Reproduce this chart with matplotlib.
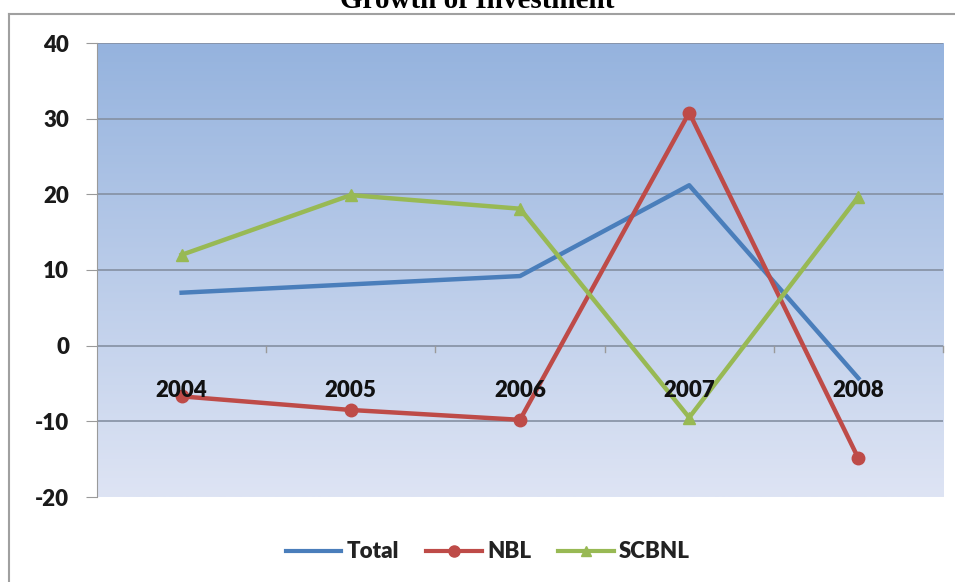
import numpy as np
import matplotlib.pyplot as plt
from matplotlib.lines import Line2D

years = ['2004', '2005', '2006', '2007', '2008']
total = [7.0, 8.1, 9.2, 21.2, -4.3]
nbl = [-6.7, -8.5, -9.8, 30.8, -14.9]
scbnl = [12.0, 19.9, 18.1, -9.5, 19.7]

plt.rcParams['font.family'] = ['Lato', 'DejaVu Sans']
plt.rcParams['axes.unicode_minus'] = False

fig = plt.figure(figsize=(9.55, 5.82), dpi=100)
W, H = 955, 582
ax = fig.add_axes([97 / W, 1 - 497 / H, 846 / W, 454 / H])

# gradient fill of the plot area
grad = np.linspace(0, 1, 256).reshape(-1, 1)
top = np.array([149, 179, 222]) / 255
bot = np.array([222, 228, 244]) / 255
img = top + (bot - top) * grad[:, :, None] * np.ones((1, 1, 3))
ax.imshow(img, extent=[-0.5, 4.5, -20, 40], aspect='auto', zorder=0)

x = np.arange(len(years))
ax.set_xlim(-0.5, 4.5)
ax.set_ylim(-20, 40)
ax.set_yticks(range(-20, 41, 10))
for v in range(-10, 41, 10):
    ax.axhline(v, color='#8590a2', lw=1.2, zorder=1)

ax.plot(x, total, color='#4a7ebb', lw=3.2, zorder=3)
ax.plot(x, nbl, color='#be4b48', lw=3.2, marker='o', ms=9, zorder=4)
ax.plot(x, scbnl, color='#98b954', lw=3.2, marker='^', ms=9, zorder=5)

for s in ['top', 'right', 'bottom']:
    ax.spines[s].set_visible(False)
ax.spines['left'].set_color('#9a9a9a')
ax.set_xticks([])
ax.tick_params(axis='y', length=8, color='#9a9a9a', labelsize=16, pad=12)
for lab in ax.get_yticklabels():
    lab.set_fontweight('heavy')
    lab.set_color('#1a1a1a')

# category ticks on the zero line and labels
for b in np.arange(0.5, 5, 1):
    ax.plot([b, b], [0, -0.9], color='#9a9a9a', lw=1, zorder=2, clip_on=False)
for xi, yr in zip(x, years):
    ax.text(xi, -5.9, yr, ha='center', va='center', fontsize=16,
            fontweight='heavy', color='#111111', zorder=6)

# chart frame (left and top edges visible)
fig.add_artist(Line2D([9 / W, 9 / W], [0, 1 - 14 / H], color='#a0a0a0', lw=1.5))
fig.add_artist(Line2D([9 / W, 1], [1 - 14 / H, 1 - 14 / H], color='#a0a0a0', lw=1.5))

fig.text(0.5, 1 - 8 / H, 'Growth of Investment', ha='center', va='baseline',
         fontsize=21, fontweight='bold', family='Liberation Serif')

handles = [
    Line2D([], [], color='#4a7ebb', lw=3),
    Line2D([], [], color='#be4b48', lw=3, marker='o', ms=8),
    Line2D([], [], color='#98b954', lw=3, marker='^', ms=7),
]
leg = fig.legend(handles, ['Total', 'NBL', 'SCBNL'], loc='center',
                 bbox_to_anchor=(488 / W, 1 - 552 / H), ncol=3, frameon=False,
                 handlelength=2.5, handletextpad=0.25, columnspacing=1.2,
                 prop={'family': 'Lato', 'weight': 'heavy', 'size': 16})
for t in leg.get_texts():
    t.set_color('#222222')

fig.savefig('out.png', dpi=100)
